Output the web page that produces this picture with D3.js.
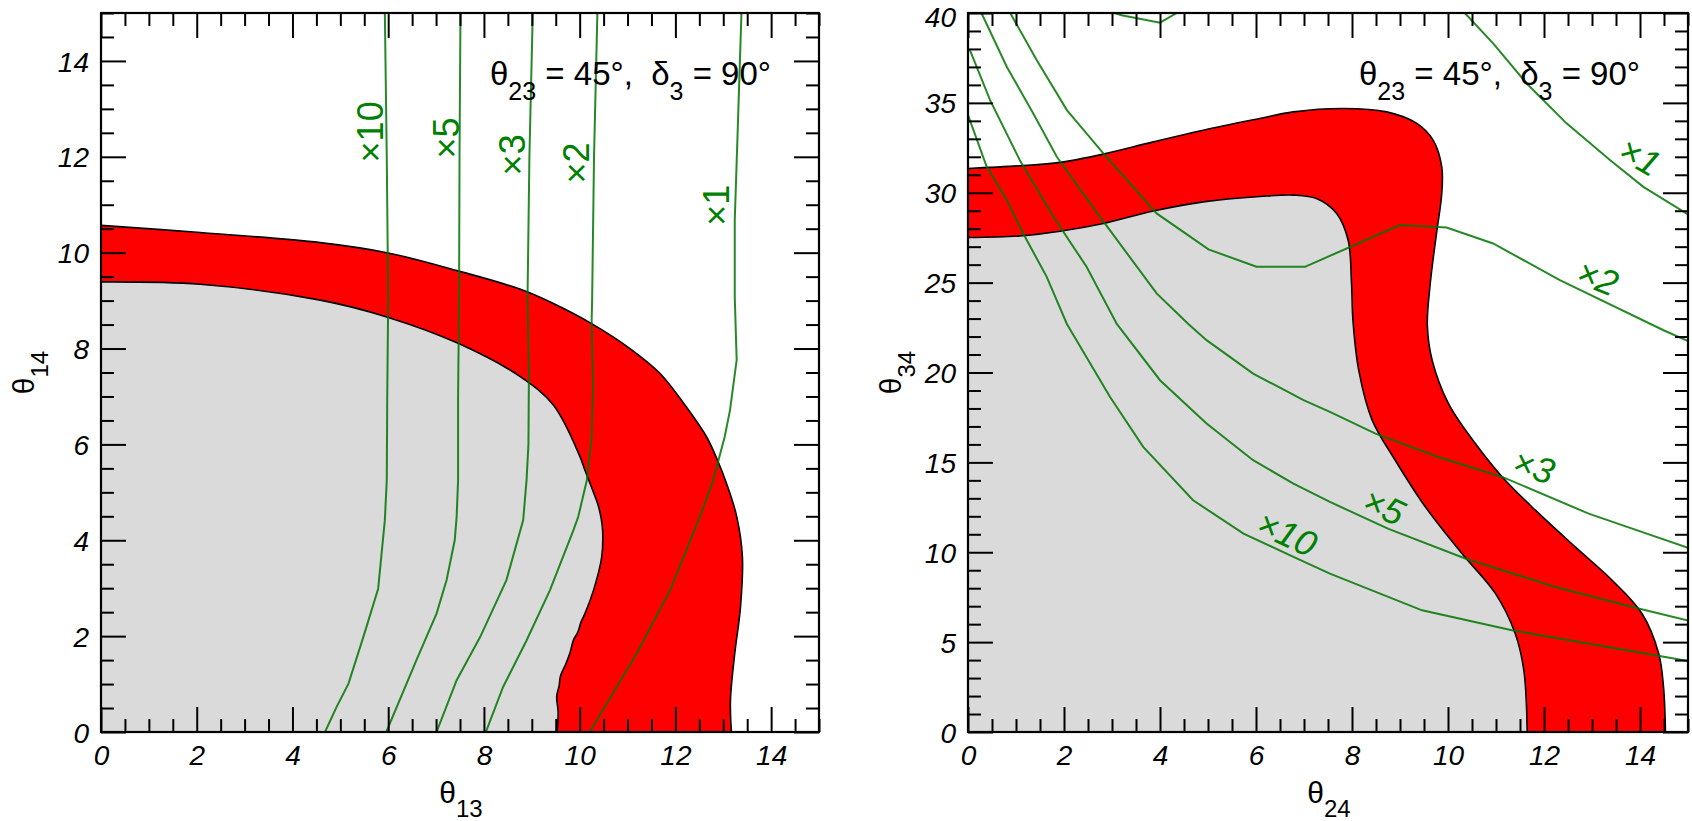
<!DOCTYPE html>
<html>
<head>
  <meta charset="utf-8">
  <title>theta contours</title>
  <script src="https://cdn.jsdelivr.net/npm/d3@7"></script>
  <style>
    body { margin: 0; background: #fff; }
    svg text { font-family: "Liberation Sans", Arial, Helvetica, sans-serif; }
  </style>
</head>
<body>
  <div id="chart"></div>
  <script type="text/javascript">
    var w = 1692;
    var h = 821;

    // ---- left panel: theta13 (x) vs theta14 (y) ----
    var leftXTicks = [0, 2, 4, 6, 8, 10, 12, 14];
    var leftYTicks = [0, 2, 4, 6, 8, 10, 12, 14];
    var leftOuter = [[0,10.57],[2.07,10.42],[4.58,10.21],[5.97,10.0],[7.46,9.62],[8.75,9.24],[9.45,8.94],
      [10.25,8.52],[11.05,8.0],[11.68,7.48],[12.23,6.78],[12.65,6.16],[12.88,5.67],[13.07,5.18],[13.28,4.5],
      [13.4,3.65],[13.36,2.61],[13.24,1.64],[13.15,0.66],[13.17,0]];
    var leftInner = [[0,9.39],[2.07,9.34],[4.58,9.01],[5.97,8.66],[7.46,8.11],[8.75,7.42],[9.45,6.82],
      [10.0,5.76],[10.11,5.46],[10.25,5.1],[10.38,4.75],[10.45,4.45],[10.48,4.2],[10.46,3.65],[10.29,2.96],
      [10.11,2.47],[10.03,2.3],[9.96,2.08],[9.87,1.92],[9.8,1.66],[9.71,1.42],[9.6,1.17],[9.57,0.96],
      [9.52,0.74],[9.55,0.42],[9.53,0]];
    var leftX1 = [[13.38,15],[13.3,12.5],[13.24,10.68],[13.24,9.08],[13.28,7.76],[13.14,6.71],[13.03,6.16],
      [12.9,5.67],[12.79,5.25],[12.51,4.49],[11.89,2.96],[11.19,1.64],[10.21,0]];
    var leftX2 = [[10.37,15],[10.3,12],[10.26,9.0],[10.25,8.59],[10.28,7.2],[10.25,6.16],[10.15,5.25],
      [9.97,4.49],[9.87,4.21],[9.38,2.96],[8.89,1.91],[8.4,0.94],[8.04,0]];
    var leftX3 = [[9.02,15],[8.95,12],[8.91,9.0],[8.94,7.5],[8.93,6.0],[8.89,5.25],[8.82,4.42],[8.47,3.17],
      [7.92,1.98],[7.43,1.08],[7.01,0]];
    var leftX5 = [[7.51,15],[7.49,12],[7.48,9.0],[7.46,7],[7.46,5.25],[7.43,4.49],[7.39,4.0],[7.22,3.17],
      [7.01,2.47],[6.59,1.5],[5.96,0]];
    var leftX10 = [[5.93,15],[5.97,12],[6.0,9.0],[5.98,7],[5.97,5.25],[5.93,4.42],[5.79,2.99],[5.48,1.98],
      [5.17,1.01],[4.92,0.52],[4.68,0]];
    var leftCurveNames = ["×1", "×2", "×3", "×5", "×10"];
    // label anchors in data units, with text angle
    var leftLabelAt = [[12.85,10.99,-90],[9.92,11.87,-90],[8.59,12.04,-90],[7.21,12.39,-90],[5.62,12.52,-90]];

    // ---- right panel: theta24 (x) vs theta34 (y) ----
    var rightXTicks = [0, 2, 4, 6, 8, 10, 12, 14];
    var rightYTicks = [0, 5, 10, 15, 20, 25, 30, 35, 40];
    var rightOuter = [[0,31.35],[1.08,31.5],[1.92,31.69],[2.82,32.15],[3.86,32.83],[4.9,33.48],[6.08,34.13],
      [6.78,34.5],[7.82,34.69],[8.72,34.5],[9.35,33.86],[9.69,32.93],[9.87,31.44],[9.87,29.96],[9.76,27.73],
      [9.63,24.95],[9.57,22.6],[9.67,20.68],[10.01,18.27],[10.57,16.05],[11.13,14.19],[11.82,12.34],
      [12.65,10.3],[13.42,8.44],[14.04,6.59],[14.39,4.36],[14.49,2.5],[14.53,0]];
    var rightInner = [[0,27.51],[1.08,27.6],[1.92,27.86],[2.82,28.29],[3.86,28.98],[4.9,29.49],[6.08,29.79],
      [6.78,29.87],[7.26,29.68],[7.68,28.85],[7.92,27.36],[7.99,24.95],[8.02,22.9],[8.14,20.13],[8.42,17.35],
      [8.9,15.12],[9.53,12.52],[10.29,9.93],[10.99,7.7],[11.4,5.48],[11.58,3.43],[11.65,0]];
    var rightX1 = [[3.05,40],[3.2,39.88],[4.0,39.46],[4.35,40], null,
      [10.35,40],[10.94,38.31],[11.64,36.08],[12.47,33.86],[13.38,31.81],[14.07,30.33],[15,28.8]];
    var rightX2 = [[0.88,40],[1.43,37.38],[2.06,34.6],[2.82,32.19],[3.93,28.85],[5.01,26.85],[6.01,25.88],
      [7.02,25.88],[9.0,28.2],[9.97,28.07],[10.94,27.18],[12.33,25.14],[14.49,22.35],[15,21.75]];
    var rightX3 = [[0.28,40],[0.81,37.0],[1.36,34.41],[1.85,32.0],[2.75,28.66],[3.93,24.4],[4.59,22.7],
      [4.97,21.8],[5.94,19.94],[6.99,18.46],[7.54,17.81],[8.49,16.6],[9.8,15.3],[11.13,14.19],[12.93,12.15],
      [15,10.25]];
    var rightX5 = [[0.04,37.93],[0.46,35.15],[1.08,31.81],[1.78,28.66],[2.47,25.88],[3.1,22.7],[4.0,19.57],
      [4.97,17.16],[5.94,15.12],[6.78,13.82],[7.54,12.8],[8.76,11.3],[10.36,9.65],[12.24,8.07],[13.97,6.87],
      [15,6.2]];
    var rightX10 = [[0,34.32],[0.39,31.44],[0.81,29.59],[1.15,27.73],[1.64,25.32],[2.06,22.7],[2.96,18.64],
      [3.65,15.86],[4.69,12.89],[5.74,11.04],[6.78,9.74],[7.54,8.81],[9.46,6.77],[11.33,5.66],[14.32,4.27],
      [15,3.95]];
    var rightCurveNames = ["×1", "×2", "×3", "×5", "×10"];
    var rightLabelAt = [[14.0,32.03,30],[13.12,25.3,22],[11.79,14.79,19],[8.67,12.56,25],[6.65,11.06,25]];

    var svg = d3.select("#chart")
      .append("svg")
      .attr("width", w)
      .attr("height", h);

    function drawPanel(p) {
      var x = d3.scaleLinear().domain([0, 15]).range([p.left, p.left + p.width]);
      var y = d3.scaleLinear().domain([0, p.ymax]).range([732, 13]);
      var g = svg.append("g");

      g.append("clipPath").attr("id", p.id)
        .append("rect")
        .attr("x", x(0)).attr("y", y(p.ymax))
        .attr("width", x(15) - x(0)).attr("height", y(0) - y(p.ymax));

      var smooth = d3.line()
        .x(function(d) { return x(d[0]); })
        .y(function(d) { return y(d[1]); })
        .curve(d3.curveCatmullRom.alpha(0.5));

      function region(pts) {
        var last = pts[pts.length - 1];
        return smooth(pts) + "L" + x(last[0]) + "," + y(0) + "L" + x(0) + "," + y(0) + "Z";
      }

      g.append("path").attr("d", region(p.outer)).attr("fill", "#ff0000");
      g.append("path").attr("d", region(p.inner)).attr("fill", "#dadada");
      g.append("path").attr("d", smooth(p.outer)).attr("fill", "none")
        .attr("stroke", "#000").attr("stroke-width", 1.6);
      g.append("path").attr("d", smooth(p.inner)).attr("fill", "none")
        .attr("stroke", "#000").attr("stroke-width", 1.6);

      var poly = d3.line()
        .defined(function(d) { return d !== null; })
        .x(function(d) { return x(d[0]); })
        .y(function(d) { return y(d[1]); });

      g.append("g").attr("clip-path", "url(#" + p.id + ")")
        .selectAll("path")
        .data(p.curves)
        .enter()
        .append("path")
        .attr("d", poly)
        .attr("fill", "none")
        .attr("stroke", "#007400")
        .attr("stroke-opacity", 0.85)
        .attr("stroke-width", 2);

      g.selectAll("text.lab")
        .data(p.names)
        .enter()
        .append("text")
        .attr("class", "lab")
        .attr("transform", function(d, i) {
          var a = p.labelAt[i];
          return "translate(" + x(a[0]) + "," + y(a[1]) + ") rotate(" + a[2] + ")";
        })
        .attr("text-anchor", "middle")
        .attr("dy", "0.36em")
        .attr("font-size", 36)
        .attr("font-style", p.labelStyle)
        .attr("fill", "#008000")
        .text(function(d) { return d; });

      // ticks on all four sides, pointing inward
      var xMinor = d3.range(0, 15.01, p.xMinorStep).filter(function(v) { return p.xTicks.indexOf(v) < 0; });
      var yMinor = d3.range(0, p.ymax + 0.01, p.yMinorStep).filter(function(v) { return p.yTicks.indexOf(v) < 0; });

      var axes = [
        [d3.axisBottom(x).tickValues(p.xTicks).tickSize(-25).tickPadding(13), "translate(0," + y(0) + ")", true],
        [d3.axisBottom(x).tickValues(xMinor).tickSize(-13), "translate(0," + y(0) + ")", false],
        [d3.axisTop(x).tickValues(p.xTicks).tickSize(-25), "translate(0," + y(p.ymax) + ")", false],
        [d3.axisTop(x).tickValues(xMinor).tickSize(-13), "translate(0," + y(p.ymax) + ")", false],
        [d3.axisLeft(y).tickValues(p.yTicks).tickSize(-25).tickPadding(12), "translate(" + x(0) + ",0)", true],
        [d3.axisLeft(y).tickValues(yMinor).tickSize(-13), "translate(" + x(0) + ",0)", false],
        [d3.axisRight(y).tickValues(p.yTicks).tickSize(-25), "translate(" + x(15) + ",0)", false],
        [d3.axisRight(y).tickValues(yMinor).tickSize(-13), "translate(" + x(15) + ",0)", false]
      ];
      axes.forEach(function(a, k) {
        var ax = a[0];
        if (!a[2]) ax.tickFormat("");
        else ax.tickFormat(d3.format("d"));
        var ag = g.append("g").attr("transform", a[1]).call(ax);
        ag.select(".domain").remove();
        ag.selectAll(".tick line").attr("stroke", "#000").attr("stroke-width", 2);
        ag.selectAll(".tick text")
          .attr("font-size", 28)
          .attr("font-style", "italic")
          .attr("fill", "#000");
        if (k === 4) {
          // keep the topmost y label inside the page
          ag.selectAll(".tick text").attr("dy", function(d) {
            return d === p.ymax ? "0.48em" : "0.36em";
          });
        }
      });

      g.append("rect")
        .attr("x", x(0)).attr("y", y(p.ymax))
        .attr("width", x(15) - x(0)).attr("height", y(0) - y(p.ymax))
        .attr("fill", "none").attr("stroke", "#000").attr("stroke-width", 2.2);

      // parameter note
      var note = g.append("text")
        .attr("x", x(15) - 329).attr("y", 85)
        .attr("font-size", 33)
        .attr("fill", "#000")
        .style("white-space", "pre");
      note.append("tspan").text("θ");
      note.append("tspan").attr("dy", 15).attr("font-size", 25).text("23");
      note.append("tspan").attr("dy", -15).text(" = 45°,  δ");
      note.append("tspan").attr("dy", 15).attr("font-size", 25).text("3");
      note.append("tspan").attr("dy", -15).text(" = 90°");

      // axis titles
      var xt = g.append("text")
        .attr("x", (x(0) + x(15)) / 2 + 1).attr("y", 803)
        .attr("text-anchor", "middle")
        .attr("font-size", 30)
        .attr("fill", "#000");
      xt.append("tspan").text("θ");
      xt.append("tspan").attr("dy", 14).attr("font-size", 24).text(p.xSub);

      var yt = g.append("text")
        .attr("transform", "translate(" + (x(0) - 67) + "," + (y(0) + y(p.ymax)) / 2 + ") rotate(-90)")
        .attr("text-anchor", "middle")
        .attr("font-size", 30)
        .attr("fill", "#000");
      yt.append("tspan").text("θ");
      yt.append("tspan").attr("dy", 14).attr("font-size", 24).text(p.ySub);
    }

    drawPanel({
      id: "clipL", left: 101, width: 718, ymax: 15,
      xTicks: leftXTicks, yTicks: leftYTicks, xMinorStep: 0.5, yMinorStep: 0.5,
      outer: leftOuter, inner: leftInner,
      curves: [leftX1, leftX2, leftX3, leftX5, leftX10],
      names: leftCurveNames, labelAt: leftLabelAt, labelStyle: "normal",
      xSub: "13", ySub: "14"
    });

    drawPanel({
      id: "clipR", left: 968, width: 720, ymax: 40,
      xTicks: rightXTicks, yTicks: rightYTicks, xMinorStep: 0.5, yMinorStep: 1,
      outer: rightOuter, inner: rightInner,
      curves: [rightX1, rightX2, rightX3, rightX5, rightX10],
      names: rightCurveNames, labelAt: rightLabelAt, labelStyle: "italic",
      xSub: "24", ySub: "34"
    });
  </script>
</body>
</html>
